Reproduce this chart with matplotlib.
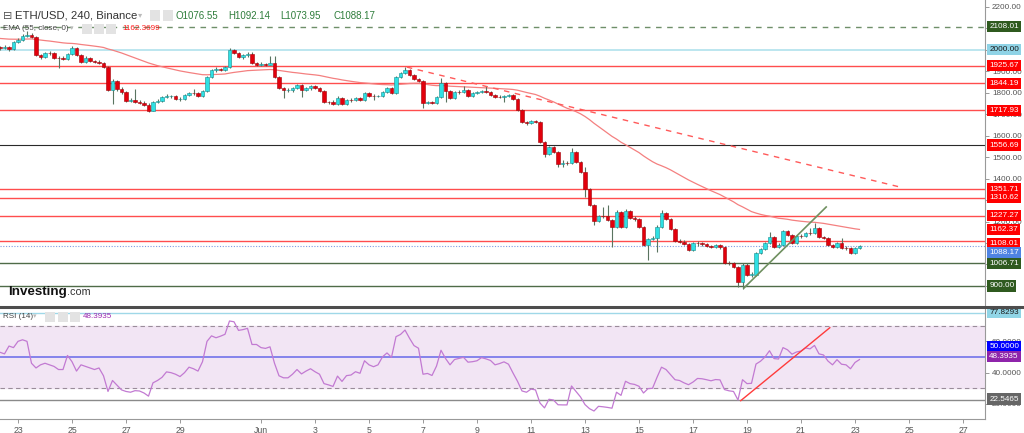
import numpy as np
import pandas as pd
import matplotlib
matplotlib.use("Agg")
import matplotlib.pyplot as plt
from matplotlib.patches import Rectangle
from matplotlib.lines import Line2D

plt.rcParams['font.family'] = ['Liberation Sans', 'DejaVu Sans']

# ---- data (4h candles) ----
start_time = '2022-05-22 08:00'
first_open = 2011
closes = [
    2009, 2014, 2004, 2037, 2046, 2065, 2069, 2060, 1976, 1967,
    1986, 1984, 1962, 1960, 1957, 1981, 2009, 1976, 1944, 1962,
    1948, 1944, 1939, 1920, 1813, 1855, 1818, 1804, 1762, 1767,
    1757, 1753, 1743, 1715, 1757, 1762, 1781, 1785, 1787, 1771,
    1773, 1790, 1799, 1797, 1785, 1808, 1874, 1906, 1911, 1908,
    1920, 2000, 1986, 1967, 1976, 1981, 1939, 1930, 1934, 1932,
    1939, 1874, 1822, 1813, 1815, 1822, 1836, 1813, 1822, 1832,
    1822, 1808, 1757, 1755, 1748, 1776, 1748, 1767, 1765, 1776,
    1767, 1799, 1785, 1783, 1786, 1804, 1822, 1799, 1874, 1892,
    1906, 1883, 1864, 1855, 1753, 1757, 1753, 1781, 1846, 1808,
    1776, 1804, 1802, 1813, 1785, 1799, 1804, 1808, 1804, 1790,
    1781, 1779, 1785, 1790, 1771, 1720, 1664, 1659, 1669, 1666,
    1571, 1515, 1548, 1524, 1468, 1473, 1471, 1524, 1478, 1431,
    1352, 1277, 1203, 1226, 1224, 1207, 1175, 1245, 1175, 1249,
    1217, 1212, 1175, 1091, 1119, 1124, 1175, 1240, 1212, 1165,
    1110, 1105, 1096, 1068, 1100, 1098, 1096, 1086, 1082, 1091,
    1082, 1007, 1005, 988, 918, 998, 951, 953, 1054, 1072,
    1100, 1128, 1082, 1091, 1156, 1138, 1100, 1133, 1131, 1147,
    1145, 1170, 1128, 1124, 1091, 1082, 1100, 1077, 1075, 1054,
    1076.55, 1088.17]
highs = [
    2018, 2023, 2018, 2042, 2055, 2074, 2088, 2079, 2065, 1981,
    1990, 1995, 1990, 1972, 1972, 1986, 2018, 2014, 1981, 1972,
    1967, 1953, 1953, 1944, 1925, 1864, 1860, 1827, 1808, 1776,
    1818, 1767, 1762, 1753, 1762, 1771, 1785, 1794, 1790, 1790,
    1781, 1794, 1804, 1818, 1804, 1813, 1878, 1911, 1920, 1916,
    1925, 2009, 2004, 1990, 1981, 1990, 1990, 1944, 1944, 1939,
    1972, 1972, 1878, 1827, 1822, 1827, 1841, 1841, 1827, 1836,
    1836, 1827, 1813, 1762, 1767, 1785, 1781, 1771, 1776, 1781,
    1781, 1804, 1804, 1794, 1790, 1808, 1827, 1827, 1878, 1897,
    1920, 1911, 1888, 1869, 1860, 1762, 1762, 1785, 1869, 1850,
    1813, 1808, 1813, 1832, 1818, 1804, 1808, 1813, 1832, 1808,
    1794, 1790, 1790, 1794, 1794, 1776, 1725, 1669, 1673, 1673,
    1669, 1576, 1552, 1552, 1529, 1487, 1482, 1543, 1529, 1482,
    1454, 1357, 1282, 1231, 1268, 1277, 1212, 1254, 1249, 1259,
    1254, 1226, 1217, 1180, 1124, 1133, 1184, 1254, 1245, 1217,
    1170, 1119, 1114, 1100, 1105, 1110, 1105, 1100, 1091, 1096,
    1096, 1086, 1016, 1012, 993, 1007, 1007, 965, 1058, 1077,
    1105, 1151, 1133, 1100, 1161, 1161, 1142, 1138, 1142, 1151,
    1170, 1193, 1175, 1133, 1128, 1096, 1105, 1124, 1086, 1082,
    1082, 1092.14]
lows = [
    2000, 2004, 1995, 2000, 2032, 2042, 2060, 2055, 1972, 1958,
    1962, 1976, 1958, 1916, 1953, 1953, 1976, 1972, 1939, 1939,
    1944, 1939, 1934, 1916, 1808, 1748, 1808, 1794, 1757, 1757,
    1753, 1748, 1739, 1711, 1715, 1753, 1757, 1776, 1776, 1767,
    1762, 1767, 1785, 1790, 1781, 1781, 1804, 1869, 1897, 1902,
    1902, 1916, 1981, 1962, 1958, 1967, 1934, 1925, 1925, 1925,
    1930, 1869, 1818, 1776, 1804, 1804, 1818, 1781, 1808, 1813,
    1818, 1804, 1753, 1748, 1743, 1743, 1743, 1743, 1757, 1762,
    1762, 1762, 1781, 1767, 1781, 1781, 1799, 1794, 1794, 1869,
    1888, 1878, 1860, 1850, 1729, 1748, 1748, 1748, 1776, 1757,
    1771, 1771, 1794, 1799, 1781, 1781, 1794, 1799, 1799, 1785,
    1776, 1776, 1757, 1781, 1767, 1715, 1659, 1650, 1655, 1659,
    1566, 1501, 1510, 1520, 1454, 1454, 1464, 1468, 1473, 1427,
    1315, 1273, 1184, 1198, 1217, 1203, 1082, 1170, 1170, 1170,
    1212, 1203, 1170, 1086, 1021, 1114, 1058, 1170, 1207, 1161,
    1105, 1100, 1091, 1063, 1063, 1086, 1086, 1082, 1077, 1077,
    1072, 1002, 998, 984, 895, 886, 946, 942, 946, 1049,
    1068, 1096, 1077, 1077, 1086, 1133, 1096, 1096, 1124, 1128,
    1138, 1142, 1124, 1119, 1086, 1077, 1077, 1072, 1068, 1049,
    1049, 1073.95]
rsi = [
    53, 52, 57, 56, 60, 61, 60, 46, 43, 45,
    46, 45, 44, 42, 42, 51, 47, 41, 45, 44,
    43, 42, 43, 38, 28, 35, 32, 29, 28, 27.5,
    28.5, 28.3, 27, 25, 33.5, 35, 37, 40.5, 40, 39,
    37.5, 40, 43.5, 42.5, 41, 47, 60, 63.5, 62.3, 63.3,
    64.5, 73, 72.5, 67, 67.5, 68.3, 58, 58, 56, 55.5,
    56.5, 46, 38, 36.7, 36.7, 39, 42, 39.2, 41, 42.5,
    40.6, 39, 33, 32.2, 31.2, 37.8, 34.4, 38.1, 38.5, 40.6,
    39.6, 47.6, 45, 43.8, 45, 50.1, 52.6, 49.8, 63, 64.4,
    67.2, 62, 57.3, 55.6, 39, 39.5, 38.2, 44.2, 54.3, 49.1,
    45, 48.4, 49.1, 49.8, 46.7, 47, 47.6, 49.6, 48.8, 47.8,
    45, 45.8, 46.9, 45.4, 39.8, 34.5, 28.3, 27.5, 29.5, 29,
    20.6, 17.5, 23, 22.5, 19.5, 19.4, 19.4, 31.5, 28, 24.5,
    19.6, 17, 15.5, 18.5, 18.2, 17.8, 17.3, 27.5, 25.5, 34.5,
    33, 32.5, 31.3, 27, 29.8, 30, 37, 43.5, 42, 38.8,
    35.5, 35, 33.5, 32.3, 34, 36.3, 36.1, 35.5, 34.8, 35.6,
    35.4, 29.2, 28.4, 28, 22.55, 35.5, 33, 33.2, 45.5, 47.3,
    50, 54, 49, 48.7, 56, 54.6, 51.8, 53.2, 53.8, 55.8,
    55.2, 57.4, 52, 51.3, 47.4, 45, 48.3, 45.4, 45, 42.5,
    46.5, 48.39]
ema_seed = 2055
ema_len = 55

levels = [2108.01, 2000.00, 1925.67, 1844.19, 1717.93, 1556.69,
          1351.71, 1310.62, 1227.27, 1108.01, 1006.71, 900.00]
last_price = 1088.17
ema_last = 1162.37
rsi_levels = [77.8293, 22.5465]
rsi_last = 48.3935

# drawings (candle index, value)
res_x, res_y = [90.4, 200.0], [1920, 1361]
sup_x, sup_y = [165.3, 183.6], [890, 1268]
rsi_tl_x, rsi_tl_y = [164.6, 184.4], [22.1, 68.7]

price_ticks = [900, 1000, 1100, 1200, 1300, 1400, 1500, 1600, 1700, 1800, 1900, 2000, 2100, 2200]
# tick labels that sit fully under a price tag are not shown
hidden_ticks = [900, 1000, 1100, 1300, 2000, 2100]
rsi_ticks = [20, 40, 60]

tick_dates = ['2022-05-23', '2022-05-25', '2022-05-27', '2022-05-29', '2022-06-01',
              '2022-06-03', '2022-06-05', '2022-06-07', '2022-06-09', '2022-06-11',
              '2022-06-13', '2022-06-15', '2022-06-17', '2022-06-19', '2022-06-21',
              '2022-06-23', '2022-06-25', '2022-06-27']
tick_labels = ['23', '25', '27', '29', 'Jun', '3', '5', '7', '9', '11', '13', '15',
               '17', '19', '21', '23', '25', '27']

# ---- derived ----
n = len(closes)
opens = [first_open] + closes[:-1]
x = np.arange(n)
o = np.array(opens, float)
c = np.array(closes, float)
hi = np.array(highs, float)
lo = np.array(lows, float)
ema = pd.Series([ema_seed] + closes).ewm(span=ema_len, adjust=False).mean().values[1:]

t0 = pd.Timestamp(start_time)
tick_pos = [(pd.Timestamp(d) - t0) / pd.Timedelta(hours=4) for d in tick_dates]

# ---- figure ----
W, H = 1024, 433
fig = plt.figure(figsize=(W / 100, H / 100), dpi=100)
axr = 985 / W
ax = fig.add_axes([0, (H - 306) / H, axr, 306 / H])
ax2 = fig.add_axes([0, (H - 419) / H, axr, (419 - 308) / H])

xmax = 985 / 4.5
ax.set_xlim(0, xmax)
ax2.set_xlim(0, xmax)
ax.set_ylim(806.6, 2232.6)
ax2.set_ylim(10.4, 81.3)

# level lines
red = '#ff4d4d'
level_style = {
    2108.01: dict(color='#6f8f6a', lw=1, ls=(0, (4, 4))),
    2000.00: dict(color='#a9dfeb', lw=1.1),
    1556.69: dict(color='#2a2a2a', lw=0.8),
    1006.71: dict(color='#4f6b48', lw=1),
    900.00: dict(color='#4f6b48', lw=1),
}
for lv in levels:
    st = level_style.get(lv, dict(color=red, lw=1))
    ax.axhline(lv, zorder=1, **st)
ax.axhline(last_price, color='#7d9be0', lw=0.8, ls=(0, (1, 1.5)), zorder=1)

ax.plot(x, ema, color='#f48080', lw=0.9, zorder=2)

# candles
up = c >= o
ax.vlines(x, lo, hi, color='#5a7460', lw=0.8, zorder=3)
body_h = np.maximum(np.abs(c - o), 2.5)
body_b = np.minimum(o, c)
ax.bar(x, body_h, bottom=body_b, width=0.7,
       color=np.where(up, '#2fe0e3', '#e2000c'),
       edgecolor=np.where(up, '#178c8f', '#a00008'), linewidth=0.4, zorder=4)

ax.plot(res_x, res_y, color='#ff5a5a', lw=1, ls=(0, (4, 4)), zorder=5)
ax.plot(sup_x, sup_y, color='#6f9060', lw=1.2, zorder=5)

# RSI panel
ax2.axhspan(30, 70, color='#f2e5f4', zorder=0)
ax2.axhline(70, color='#9a8c9a', lw=0.8, ls=(0, (4, 3)))
ax2.axhline(30, color='#9a8c9a', lw=0.8, ls=(0, (4, 3)))
ax2.axhline(50, color='#7272ea', lw=1.2)
ax2.axhline(rsi_levels[0], color='#9fd8e8', lw=1)
ax2.axhline(rsi_levels[1], color='#8a8a8a', lw=1)
ax2.plot(x, rsi, color='#c27ad2', lw=0.9, zorder=3)
ax2.plot(rsi_tl_x, rsi_tl_y, color='#ff3b3b', lw=1, zorder=4)

# axes styling
for a in (ax, ax2):
    a.yaxis.tick_right()
    a.spines['left'].set_visible(False)
    a.spines['top'].set_visible(False)
    a.spines['right'].set_color('#999999')
    a.tick_params(axis='y', length=3, width=0.7, color='#999999', labelsize=5.9,
                  labelcolor='#555555', pad=2)
ax.spines['bottom'].set_visible(False)
ax.tick_params(axis='x', bottom=False, labelbottom=False)
ax.set_yticks(price_ticks)
ax.set_yticklabels(['' if v in hidden_ticks else '%.2f' % v for v in price_ticks])
ax2.set_yticks(rsi_ticks)
ax2.set_yticklabels(['%.4f' % v for v in rsi_ticks])
ax2.spines['bottom'].set_color('#999999')
ax2.set_xticks(tick_pos)
ax2.set_xticklabels(tick_labels)
ax2.tick_params(axis='x', length=3, width=0.7, color='#999999', labelsize=6.3,
                labelcolor='#555555', pad=2)

fig.add_artist(Line2D([0, 1], [1 - 306.8 / H, 1 - 306.8 / H], color='#4d4d4d', lw=2.2))


def tag(a, y, text, fc, tc='white', dy=0):
    a.annotate(text, xy=(1, y), xycoords=('axes fraction', 'data'),
               xytext=(3.0, dy), textcoords='offset points', ha='left', va='center',
               fontsize=5.9, color=tc,
               bbox=dict(boxstyle='square,pad=0.25', fc=fc, ec='none'),
               annotation_clip=False, zorder=20)


tag_colors = {2108.01: ('#2f5a1f', 'white'), 2000.00: ('#8fd3e6', '#1a1a1a'),
              1006.71: ('#2f5a1f', 'white'), 900.00: ('#2f5a1f', 'white')}
tag_shift = {1108.01: -1.3}
for lv in levels:
    fc, tc = tag_colors.get(lv, ('#ff0000', 'white'))
    tag(ax, lv, '%.2f' % lv, fc, tc, tag_shift.get(lv, 0))
tag(ax, ema_last, '%.2f' % ema_last, '#ff0000')
tag(ax, last_price, '%.2f' % last_price, '#4f83e3', dy=-5.3)

tag(ax2, rsi_levels[0], '%.4f' % rsi_levels[0], '#90d5e6', '#1a1a1a', dy=1)
tag(ax2, 50, '50.0000', '#0000ff', dy=7.8)
tag(ax2, rsi_last, '%.4f' % rsi_last, '#8e24aa', dy=2.2)
tag(ax2, rsi_levels[1], '%.4f' % rsi_levels[1], '#666666', dy=0.7)


# header texts (pixel positions)
def ftext(px, py, s, **kw):
    return fig.text(px / W, 1 - py / H, s, va='center', ha='left', **kw)


def fbox(px, py, w, h, fc='#e3e3e3'):
    fig.add_artist(Rectangle((px / W, 1 - (py + h) / H), w / W, h / H,
                             transform=fig.transFigure, fc=fc, ec='none'))


ftext(3, 16, '⊟', fontsize=8, color='#555555')
ftext(15, 16, 'ETH/USD, 240, Binance', fontsize=8.2, color='#333333')
ftext(138, 16, '▾', fontsize=6, color='#bbbbbb')
fbox(150, 10, 10, 11)
fbox(163, 10, 10, 11)
ohlc_green = '#2e7d3b'
for px, s in [(176, 'O1076.55'), (228, 'H1092.14'), (280, 'L1073.95'), (333, 'C1088.17')]:
    ftext(px, 16, s, fontsize=7, color=ohlc_green)

ftext(3, 29, 'EMA (55, close, 0)', fontsize=5.8, color='#444444')
ftext(70, 29, '▾', fontsize=5, color='#bbbbbb')
for px in (82, 94, 106):
    fbox(px, 24, 10, 10)
ftext(122, 29, '%.4f' % 1162.3699, fontsize=5.8, color='#ff1a1a')

ftext(3, 317, 'RSI (14)', fontsize=5.8, color='#444444')
ftext(33, 317, '▾', fontsize=5, color='#bbbbbb')
for px in (45, 58, 70):
    fbox(px, 312, 10, 10)
ftext(83, 317, '%.4f' % rsi_last, fontsize=5.8, color='#9c27b0')

t1 = fig.text(8 / W, 1 - 295 / H, 'Investing', fontsize=9.6, fontweight='bold',
              color='#111111', va='baseline', ha='left')
fig.canvas.draw()
bb = t1.get_window_extent()
fig.text(bb.x1 / W, 1 - 295 / H, '.com', fontsize=7.8, color='#333333',
         va='baseline', ha='left')

fig.savefig('out.png', dpi=100, facecolor='white')
